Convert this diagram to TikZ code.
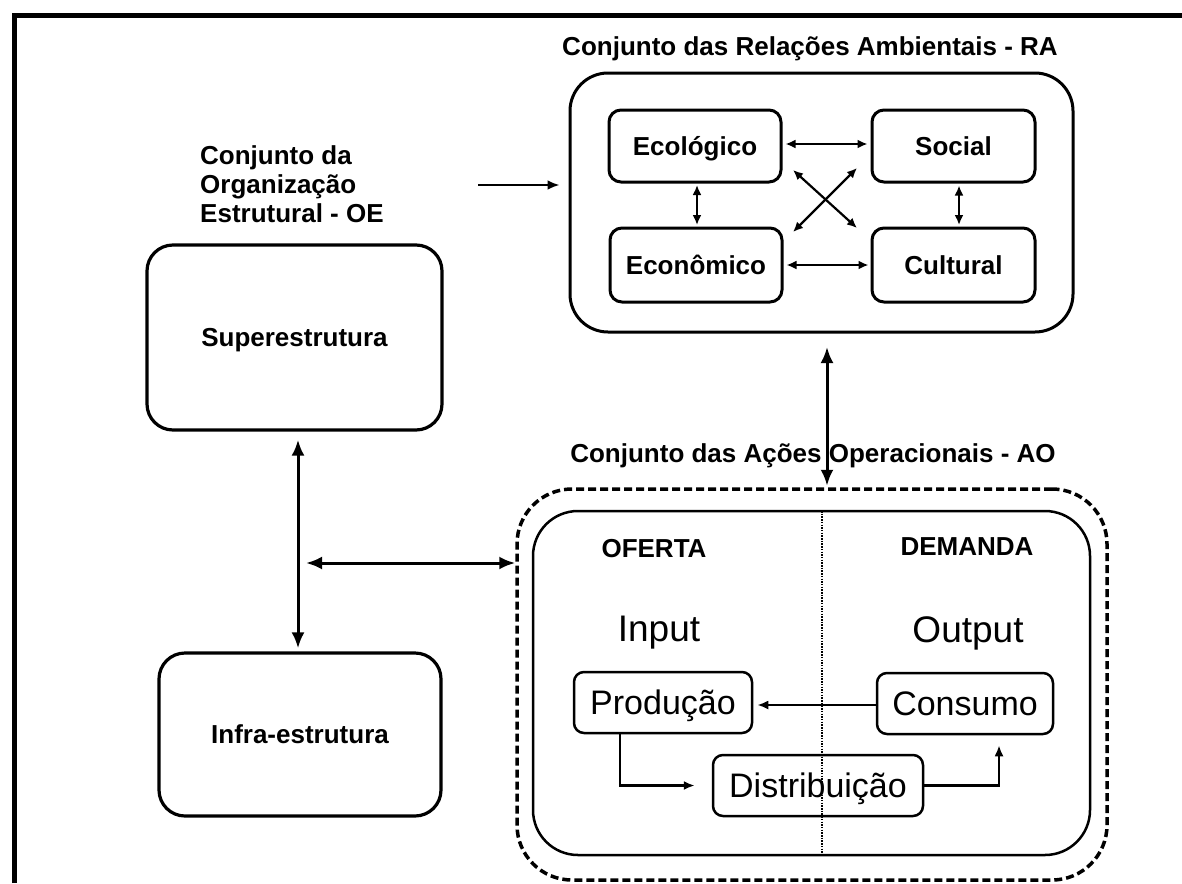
\documentclass[tikz,border=0pt]{standalone}
\usepackage{fontspec}
\setmainfont{Liberation Sans}
\usetikzlibrary{arrows.meta,calc}
\begin{document}
\begin{tikzpicture}[x=1pt,y=-1pt,
  bt/.style={font=\fontsize{26}{29}\selectfont\bfseries, inner sep=0pt},
  bigt/.style={font=\fontsize{37}{40}\selectfont, inner sep=0pt},
  rbox/.style={draw, line width=3pt, rounded corners=#1, inner sep=0pt, align=center},
  rbox/.default=12pt,
  capb/.style={text height=18.8pt, text depth=0pt, font=\fontsize{26}{29}\selectfont\bfseries},
  sbox/.style={draw, line width=2.5pt, rounded corners=10pt, inner sep=0pt,
     font=\fontsize{34}{38}\selectfont, text height=24.5pt, text depth=0pt},
  dashbox/.style={draw, line width=3.5pt, dash pattern=on 8pt off 4pt, rounded corners=55pt, inner sep=0pt},
  bigdbl/.style={line width=3pt, {Latex[length=16pt,width=13pt]}-{Latex[length=16pt,width=13pt]}},
  smalldbl/.style={line width=2.2pt, {Latex[length=10pt,width=9pt]}-{Latex[length=10pt,width=9pt]}},
  flow/.style={line width=2.2pt, -{Latex[length=11pt,width=9pt]}},
]
\useasboundingbox (0,0) rectangle (1182,883);
% frame
\draw[line width=5pt] (14,883) -- (14,15.5) -- (1182,15.5);

% Organizacao Estrutural
\node[bt, align=left, anchor=west] (oet) at (200,184)
  {Conjunto da\\Organização\\Estrutural - OE};
\node[rbox=26pt, line width=3.2pt, minimum width=295pt, minimum height=185pt, capb] (super) at (294.5,337.5)
  {Superestrutura};
\node[rbox=26pt, line width=3.2pt, minimum width=282pt, minimum height=163pt, capb] (infra) at (300,734.5)
  {Infra-estrutura};

% Relacoes Ambientais
\node[bt] (rat) at (810,49) {Conjunto das Relações Ambientais - RA};
\node[rbox=38pt, minimum width=503pt, minimum height=259pt] (ra) at (821.5,202.5) {};
\node[rbox, minimum width=172pt, minimum height=72pt, capb] (ecol) at (695,146) {Ecológico};
\node[rbox, minimum width=172pt, minimum height=74pt, capb] (econ) at (696,265) {Econômico};
\node[rbox, minimum width=163pt, minimum height=72pt, capb] (social) at (953.5,146) {Social};
\node[rbox, minimum width=163pt, minimum height=74pt, capb] (cult) at (953.5,265) {Cultural};

% Acoes Operacionais
\node[bt] (aot) at (813,456) {Conjunto das Ações Operacionais - AO};
\node[dashbox, minimum width=590pt, minimum height=391pt] (ao) at (812,684.5) {};
\node[rbox=45pt, line width=2.5pt, minimum width=557pt, minimum height=344pt] (aoin) at (811.5,683) {};
\draw[line width=1.2pt, dash pattern=on 1.5pt off 1.2pt] (822,511) -- (822,855);
\node[bt] (oferta) at (654,549) {OFERTA};
\node[bt] (demanda) at (967,547) {DEMANDA};
\node[bigt] (input) at (659,633) {Input};
\node[bigt] (output) at (968,633) {Output};
\node[sbox, minimum width=178pt, minimum height=61pt] (prod) at (663,702.5) {Produção};
\node[sbox, minimum width=176pt, minimum height=61pt] (cons) at (965,703.5) {Consumo};
\node[sbox, minimum width=210pt, minimum height=61pt] (dist) at (818,785.5) {Distribuição};

% connectors
\coordinate (oa) at (478,185);
\draw[line width=2.5pt, -{Latex[length=12pt,width=10pt]}, shorten >=9pt] (oa) -- (oa -| ra.west);

\draw[smalldbl, shorten <=3pt, shorten >=3pt] ([yshift=2pt]ecol.east) -- ([yshift=2pt]social.west);
\draw[smalldbl, shorten <=3pt, shorten >=2pt] (econ.east) -- (cult.west);
\draw[smalldbl, shorten <=1.5pt, shorten >=1.5pt] ([xshift=2pt]ecol.south) -- ([xshift=1pt]econ.north);
\draw[smalldbl, shorten <=2pt, shorten >=1.5pt] ([xshift=5.5pt]social.south) -- ([xshift=5.5pt]cult.north);
\coordinate (d1) at (793,170);
\coordinate (d2) at (857,228);
\coordinate (d3) at (793,232);
\coordinate (d4) at (857,168);
\draw[smalldbl] (d1) -- (d2);
\draw[smalldbl] (d3) -- (d4);

\coordinate (v) at (298,563);
\coordinate (h) at (306,563);
\draw[bigdbl, shorten <=8pt, shorten >=3pt] (super.south -| v) -- (infra.north -| v);
\draw[bigdbl] (h) -- (h -| ao.west);
\draw[bigdbl, shorten <=13.5pt, shorten >=1.5pt] ([xshift=5.5pt]ra.south) -- ([xshift=5.5pt]ra.south |- ao.north);

\draw[flow, shorten >=4pt] ([yshift=-1.5pt]cons.west) -- ([yshift=-1.5pt]cons.west -| prod.east);
\coordinate (pd) at (620,785);
\draw[flow, shorten >=17pt] (prod.south -| pd) |- (dist.west);
\coordinate (dc) at (999,787);
\draw[flow, shorten >=10pt] (dist.east) -| (cons.south -| dc);
\end{tikzpicture}
\end{document}
